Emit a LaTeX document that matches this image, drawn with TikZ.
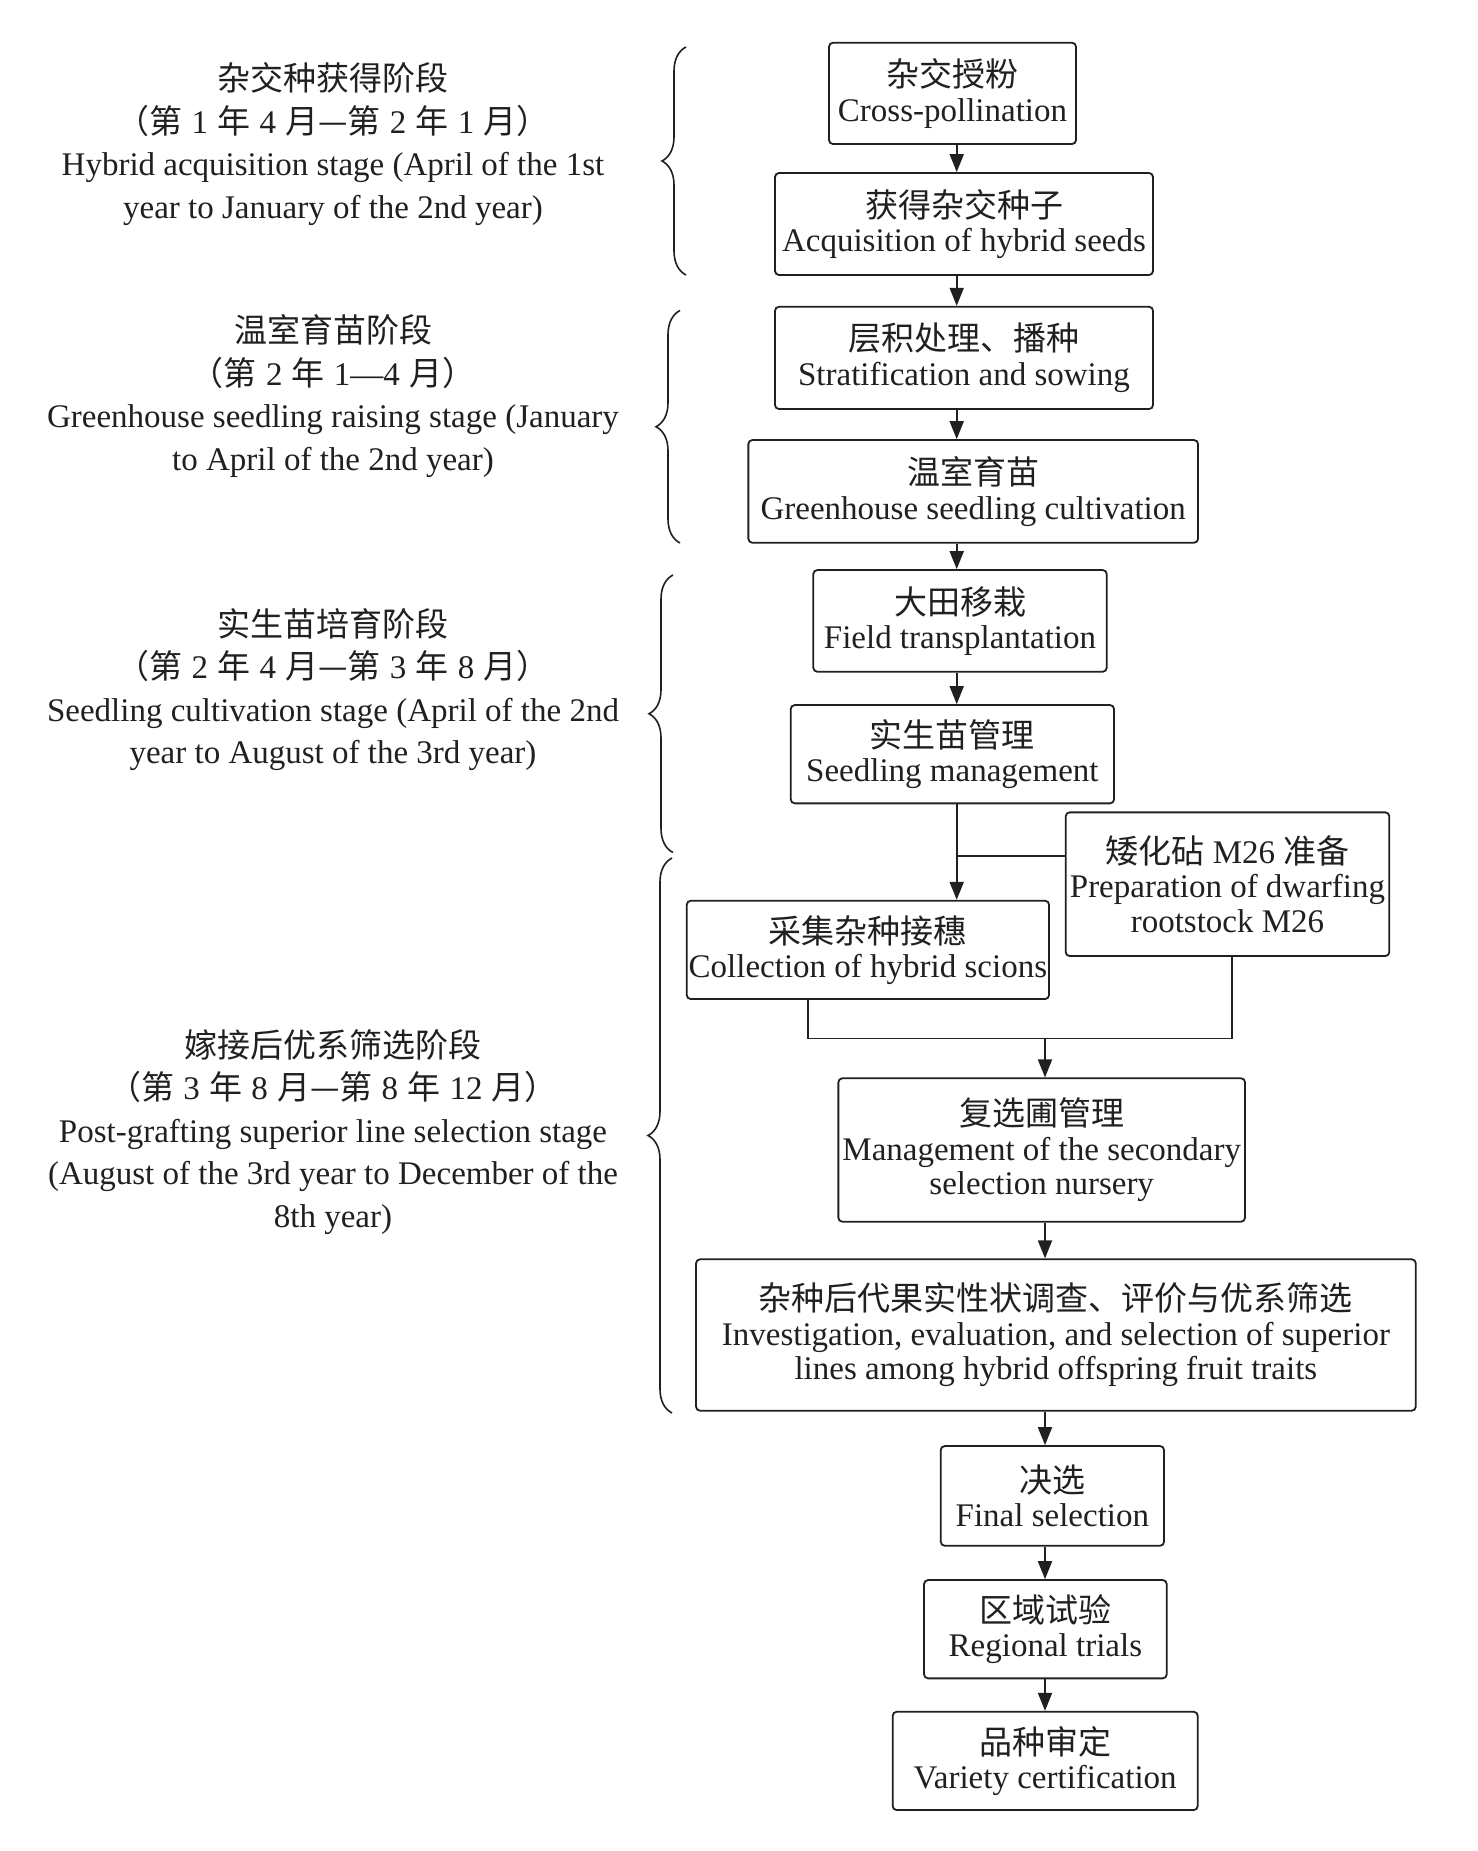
\documentclass[tikz,border=0pt]{standalone}
\usepackage{fontspec}
\setmainfont{Liberation Serif}
\newfontfamily\cjk{Noto Sans CJK SC}
\usetikzlibrary{arrows.meta,decorations.pathreplacing}
\definecolor{ink}{RGB}{35,31,32}
\newcommand\myboxfont{\fontsize{16.5pt}{17.25pt}\selectfont}
\newcommand\mystagefont{\fontsize{16.5pt}{21.25pt}\selectfont}
\newcommand\dsp{\hspace{0.28em}}
\begin{document}
\begin{tikzpicture}[x=0.5pt,y=-0.5pt,
  box/.style={draw=ink, line width=0.9pt, rounded corners=2pt, inner sep=0pt,
    align=center, font=\myboxfont, text=ink},
  arr/.style={draw=ink, line width=0.9pt, -{Triangle[length=9pt,width=7pt]}},
  lnk/.style={draw=ink, line width=0.9pt},
  stage/.style={align=center, font=\mystagefont, text=ink, inner sep=0pt},
  brc/.style={draw=ink, line width=0.8pt, decorate, decoration={brace, amplitude=12pt}}]
\fill[white] (0,0) rectangle (1477,1851);
\useasboundingbox (0,0) rectangle (1477,1851);

% stage labels
\node[stage] (s1) at (333,144) {{\cjk 杂交种获得阶段}\\
  {\cjk （第}\dsp 1\dsp{\cjk 年}\dsp 4\dsp{\cjk 月—第}\dsp 2\dsp{\cjk 年}\dsp 1\dsp{\cjk 月）}\\
  Hybrid acquisition stage (April of the 1st\\
  year to January of the 2nd year)};
\node[stage] (s2) at (333,396) {{\cjk 温室育苗阶段}\\
  {\cjk （第}\dsp 2\dsp{\cjk 年}\dsp 1—4\dsp{\cjk 月）}\\
  Greenhouse seedling raising stage (January\\
  to April of the 2nd year)};
\node[stage] (s3) at (333,689.5) {{\cjk 实生苗培育阶段}\\
  {\cjk （第}\dsp 2\dsp{\cjk 年}\dsp 4\dsp{\cjk 月—第}\dsp 3\dsp{\cjk 年}\dsp 8\dsp{\cjk 月）}\\
  Seedling cultivation stage (April of the 2nd\\
  year to August of the 3rd year)};
\node[stage] (s4) at (333,1131.7) {{\cjk 嫁接后优系筛选阶段}\\
  {\cjk （第}\dsp 3\dsp{\cjk 年}\dsp 8\dsp{\cjk 月—第}\dsp 8\dsp{\cjk 年}\dsp 12\dsp{\cjk 月）}\\
  Post-grafting superior line selection stage\\
  (August of the 3rd year to December of the\\
  8th year)};

% braces
\draw[brc] (686,275) -- (686,47);
\draw[brc] (680,543) -- (680,310.5);
\draw[brc] (673,852.5) -- (673,575);
\draw[brc] (672,1413) -- (672,858);

% boxes
\node[box, minimum width=123.5pt, minimum height=50.65pt] (b1) at (952.5,93.4)
  {{\cjk 杂交授粉}\\Cross-pollination};
\node[box, minimum width=189pt, minimum height=51pt] (b2) at (964,224)
  {{\cjk 获得杂交种子}\\Acquisition of hybrid seeds};
\node[box, minimum width=189pt, minimum height=51.15pt] (b3) at (964,357.9)
  {{\cjk 层积处理、播种}\\Stratification and sowing};
\node[box, minimum width=224.85pt, minimum height=51.35pt] (b4) at (973.2,491.4)
  {{\cjk 温室育苗}\\Greenhouse seedling cultivation};
\node[box, minimum width=146.7pt, minimum height=50.85pt] (b5) at (960,620.9)
  {{\cjk 大田移栽}\\Field transplantation};
\node[box, minimum width=161.65pt, minimum height=49.15pt] (b6) at (952.4,754.2)
  {{\cjk 实生苗管理}\\Seedling management};
\node[box, minimum width=161.8pt, minimum height=71.85pt] (b7) at (1227.5,884.2)
  {{\cjk 矮化砧} M26 {\cjk 准备}\\Preparation of dwarfing\\rootstock M26};
\node[box, minimum width=181.15pt, minimum height=49.15pt] (b8) at (867.9,949.9)
  {{\cjk 采集杂种接穗}\\Collection of hybrid scions};
\node[box, minimum width=203.35pt, minimum height=71.7pt] (b9) at (1041.7,1150)
  {{\cjk 复选圃管理}\\Management of the secondary\\selection nursery};
\node[box, minimum width=359.85pt, minimum height=75.7pt] (b10) at (1055.9,1335)
  {{\cjk 杂种后代果实性状调查、评价与优系筛选}\\Investigation, evaluation, and selection of superior\\lines among hybrid offspring fruit traits};
\node[box, minimum width=111.65pt, minimum height=49.85pt] (b11) at (1052.4,1495.9)
  {{\cjk 决选}\\Final selection};
\node[box, minimum width=121.35pt, minimum height=49.15pt] (b12) at (1045.4,1629.2)
  {{\cjk 区域试验}\\Regional trials};
\node[box, minimum width=152.5pt, minimum height=49.15pt] (b13) at (1045.2,1760.9)
  {{\cjk 品种审定}\\Variety certification};

% connectors
\coordinate (ux) at (956.7,0);
\coordinate (lx) at (1045,0);
\draw[arr] (b1.south -| ux) -- (b2.north -| ux);
\draw[arr] (b2.south -| ux) -- (b3.north -| ux);
\draw[arr] (b3.south -| ux) -- (b4.north -| ux);
\draw[arr] (b4.south -| ux) -- (b5.north -| ux);
\draw[arr] (b5.south -| ux) -- (b6.north -| ux);
\draw[arr] (b6.south -| ux) -- (b8.north -| ux);
\coordinate (j1) at (956.7,856);
\draw[lnk] (j1) -- (b7.west |- j1);
\coordinate (l8) at (808.3,0);
\coordinate (l7) at (1232.3,0);
\coordinate (jy) at (0,1038.5);
\draw[lnk] (b8.south -| l8) |- (l7 |- jy) -- (b7.south -| l7);
\draw[arr] (lx |- jy) -- (b9.north -| lx);
\draw[arr] (b9.south -| lx) -- (b10.north -| lx);
\draw[arr] (b10.south -| lx) -- (b11.north -| lx);
\draw[arr] (b11.south -| lx) -- (b12.north -| lx);
\draw[arr] (b12.south -| lx) -- (b13.north -| lx);
\end{tikzpicture}
\end{document}
